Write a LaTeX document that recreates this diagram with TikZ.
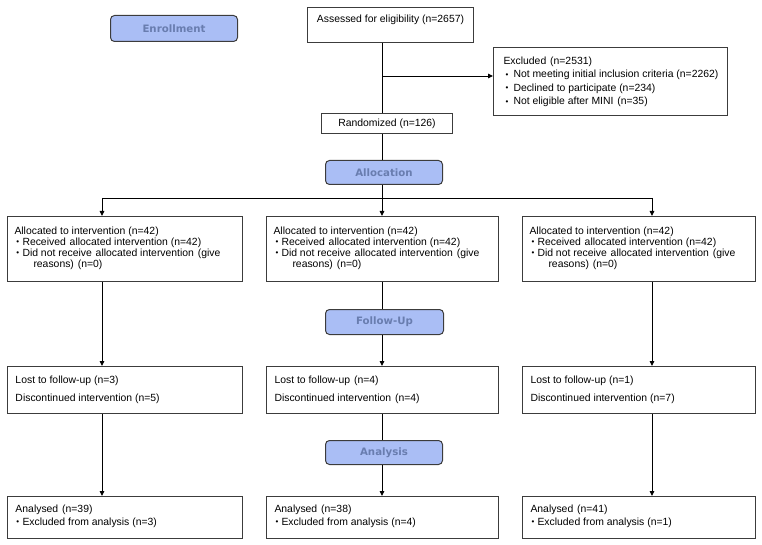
\documentclass[tikz,border=0pt]{standalone}
\usepackage{fontspec}
\setmainfont{Liberation Sans}
\newfontfamily\phasefont{DejaVu Sans}
\usetikzlibrary{arrows.meta}
\definecolor{phasefill}{RGB}{170,190,245}
\definecolor{phasetext}{RGB}{105,125,175}
\definecolor{edgegrey}{RGB}{60,60,60}
% W, H, baselineskip, first baseline, body
\newcommand{\bxt}[5]{\begin{minipage}[t][#2][t]{#1}\fontsize{10.4pt}{#3}\selectfont\rule{0pt}{#4}#5\end{minipage}}
\newcommand{\bul}{\makebox[0pt][l]{\raisebox{0.6pt}{\fontsize{8pt}{8pt}\selectfont •}}}
\newcommand{\gap}{\ \hspace{1pt}}
\tikzset{
  txtbox/.style={draw=edgegrey, line width=1pt, inner sep=0pt, anchor=north west},
  phase/.style={draw=edgegrey, line width=1pt, fill=phasefill, rounded corners=4pt, inner sep=0pt,
    anchor=north west, text=phasetext, font=\phasefont\bfseries\fontsize{10.2pt}{12pt}\selectfont},
  plainbox/.style={draw=edgegrey, line width=1pt, inner sep=0pt, anchor=north west, font=\fontsize{10.4pt}{12pt}\selectfont},
  conn/.style={line width=0.9pt},
  arr/.style={line width=0.9pt, -{Triangle[length=5pt,width=4.5pt]}}
}
\begin{document}
\begin{tikzpicture}[x=1pt,y=-1pt]
\useasboundingbox (0,0) rectangle (762,545);
% phase boxes
\node[phase, minimum width=127pt, minimum height=26pt] (enr) at (110,15) {Enrollment};
\node[phase, minimum width=117pt, minimum height=24pt] (alc) at (325,160) {Allocation};
\node[phase, minimum width=118pt, minimum height=25pt] (fu) at (325,309) {Follow-Up};
\node[phase, minimum width=117pt, minimum height=24pt] (an) at (325,440) {Analysis};
% enrollment
\node[txtbox] (ass) at (307,7) {\bxt{166pt}{35pt}{12pt}{15pt}{\centering Assessed for eligibility (n=2657)\par}};
\node[plainbox, minimum width=131pt, minimum height=20pt] (rnd) at (321,113) {Randomized (n=126)};
\node[txtbox] (exc) at (493,47) {\bxt{234pt}{68pt}{13.4pt}{17pt}{%
\hspace*{10pt}Excluded\gap(n=2531)\\
\hspace*{12pt}\bul\hspace*{8pt}Not meeting initial inclusion criteria (n=2262)\\
\hspace*{12pt}\bul\hspace*{8pt}Declined to participate (n=234)\\
\hspace*{12pt}\bul\hspace*{8pt}Not eligible after MINI\gap(n=35)}};
% allocation boxes
\node[txtbox] (a1) at (7,216) {\bxt{235pt}{65pt}{11pt}{18pt}{%
\hspace*{7pt}Allocated to intervention (n=42)\\
\hspace*{9pt}\bul\hspace*{6pt}Received\gap allocated intervention (n=42)\\
\hspace*{9pt}\bul\hspace*{6pt}Did not receive\gap allocated intervention\gap(give\\
\hspace*{26pt}reasons)\gap(n=0)}};
\node[txtbox] (a2) at (266,216) {\bxt{232pt}{65pt}{11pt}{18pt}{%
\hspace*{7pt}Allocated to intervention (n=42)\\
\hspace*{9pt}\bul\hspace*{6pt}Received\gap allocated intervention (n=42)\\
\hspace*{9pt}\bul\hspace*{6pt}Did not receive\gap allocated intervention\gap(give\\
\hspace*{26pt}reasons)\gap(n=0)}};
\node[txtbox] (a3) at (522,216) {\bxt{233pt}{65pt}{11pt}{18pt}{%
\hspace*{7pt}Allocated to intervention (n=42)\\
\hspace*{9pt}\bul\hspace*{6pt}Received\gap allocated intervention (n=42)\\
\hspace*{9pt}\bul\hspace*{6pt}Did not receive\gap allocated intervention\gap(give\\
\hspace*{26pt}reasons)\gap(n=0)}};
% follow-up boxes
\node[txtbox] (l1) at (7,366) {\bxt{235pt}{47pt}{18pt}{17pt}{%
\hspace*{8pt}Lost to follow-up (n=3)\\
\hspace*{8pt}Discontinued intervention (n=5)}};
\node[txtbox] (l2) at (266,366) {\bxt{232pt}{47pt}{18pt}{17pt}{%
\hspace*{8pt}Lost to follow-up\gap(n=4)\\
\hspace*{8pt}Discontinued intervention\gap(n=4)}};
\node[txtbox] (l3) at (522,366) {\bxt{233pt}{47pt}{18pt}{17pt}{%
\hspace*{8pt}Lost to follow-up (n=1)\\
\hspace*{8pt}Discontinued intervention (n=7)}};
% analysis boxes
\node[txtbox] (d1) at (7,496) {\bxt{235pt}{42pt}{13pt}{16pt}{%
\hspace*{8pt}Analysed\gap(n=39)\\
\hspace*{9pt}\bul\hspace*{6pt}Excluded from analysis (n=3)}};
\node[txtbox] (d2) at (266,496) {\bxt{232pt}{42pt}{13pt}{16pt}{%
\hspace*{8pt}Analysed\gap(n=38)\\
\hspace*{9pt}\bul\hspace*{6pt}Excluded from analysis (n=4)}};
\node[txtbox] (d3) at (522,496) {\bxt{233pt}{42pt}{13pt}{16pt}{%
\hspace*{8pt}Analysed\gap(n=41)\\
\hspace*{9pt}\bul\hspace*{6pt}Excluded from analysis (n=1)}};
% reference coordinates
\coordinate (mx) at (382,0);
\coordinate (lx) at (102,0);
\coordinate (rx) at (652,0);
\coordinate (j1) at (382,76);
\coordinate (j2) at (382,198);
\coordinate (jl) at (102,198);
\coordinate (jr) at (652,198);
% connectors
\draw[conn] (ass.south -| mx) -- (rnd.north -| mx);
\draw[arr] (j1) -- (j1 -| exc.west);
\draw[conn] (rnd.south -| mx) -- (alc.north -| mx);
\draw[conn] (alc.south -| mx) -- (j2);
\draw[conn] (jl) -- (jr);
\draw[arr] (jl) -- (a1.north -| lx);
\draw[arr] (j2) -- (a2.north -| mx);
\draw[arr] (jr) -- (a3.north -| rx);
\draw[arr] (a1.south -| lx) -- (l1.north -| lx);
\draw[conn] (a2.south -| mx) -- (fu.north -| mx);
\draw[arr] (fu.south -| mx) -- (l2.north -| mx);
\draw[arr] (a3.south -| rx) -- (l3.north -| rx);
\draw[arr] (l1.south -| lx) -- (d1.north -| lx);
\draw[conn] (l2.south -| mx) -- (an.north -| mx);
\draw[arr] (an.south -| mx) -- (d2.north -| mx);
\draw[arr] (l3.south -| rx) -- (d3.north -| rx);
\end{tikzpicture}
\end{document}
